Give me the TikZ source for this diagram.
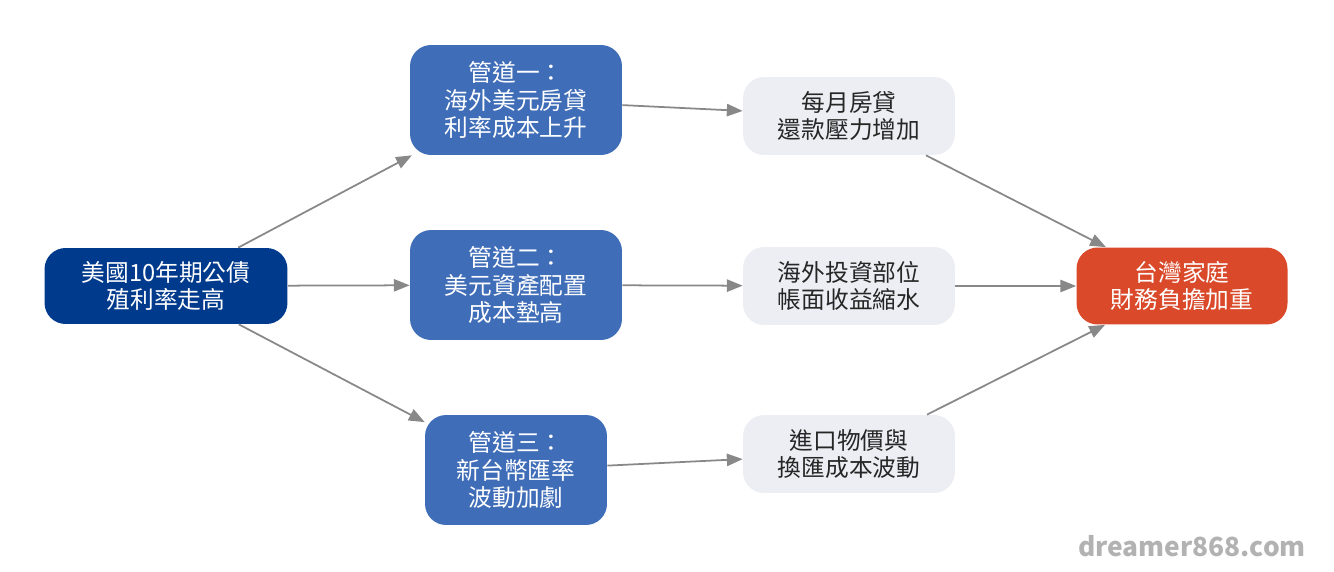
\documentclass[tikz,border=0pt]{standalone}
\usepackage{fontspec}
\setmainfont{Noto Sans CJK TC}
\usetikzlibrary{arrows.meta,positioning}
\definecolor{srcblue}{HTML}{003A8C}
\definecolor{chblue}{HTML}{3F6DB8}
\definecolor{effgray}{HTML}{EDEEF3}
\definecolor{tgtred}{HTML}{D9492A}
\definecolor{arrgray}{HTML}{888888}
\tikzset{
  box/.style={rounded corners=12pt, align=center, font=\fontsize{13.5}{15.5}\selectfont, inner sep=2pt},
  src/.style={box, fill=srcblue, text=white, minimum width=4.86cm, minimum height=1.52cm},
  chan/.style={box, fill=chblue, text=white, minimum width=4.24cm, minimum height=2.2cm},
  eff/.style={box, fill=effgray, text=black!85, minimum width=4.24cm, minimum height=1.56cm},
  tgt/.style={box, fill=tgtred, text=white, minimum width=4.22cm, minimum height=1.54cm},
  flow/.style={-{Triangle[length=9pt,width=7pt]}, draw=arrgray, line width=1pt}
}
\begin{document}
\begin{tikzpicture}[x=0.02cm,y=-0.02cm]
\useasboundingbox (0,0) rectangle (1334,571);
\node[src] (rate) at (166,286) {美國10年期公債\\殖利率走高};
\node[chan] (ch1) at (516,100) {管道一：\\海外美元房貸\\利率成本上升};
\node[chan] (ch2) at (516,285) {管道二：\\美元資產配置\\成本墊高};
\node[chan, minimum width=3.64cm] (ch3) at (516,470) {管道三：\\新台幣匯率\\波動加劇};
\node[eff] (loan) at (849,116) {每月房貸\\還款壓力增加};
\node[eff] (invest) at (849,286) {海外投資部位\\帳面收益縮水};
\node[eff] (price) at (849,454) {進口物價與\\換匯成本波動};
\node[tgt] (home) at (1182,286) {台灣家庭\\財務負擔加重};
\draw[flow] (rate) -- (ch1);
\draw[flow] (rate) -- (ch2);
\draw[flow] (rate) -- (ch3);
\draw[flow] (ch1) -- (loan);
\draw[flow] (ch2) -- (invest);
\draw[flow] (ch3) -- (price);
\draw[flow] (loan) -- (home);
\draw[flow] (invest) -- (home);
\draw[flow] (price) -- (home);
\node[font=\bfseries\fontsize{15}{17}\selectfont, text=black!30] (mark) at (1192,546) {dreamer868.com};
\end{tikzpicture}
\end{document}
